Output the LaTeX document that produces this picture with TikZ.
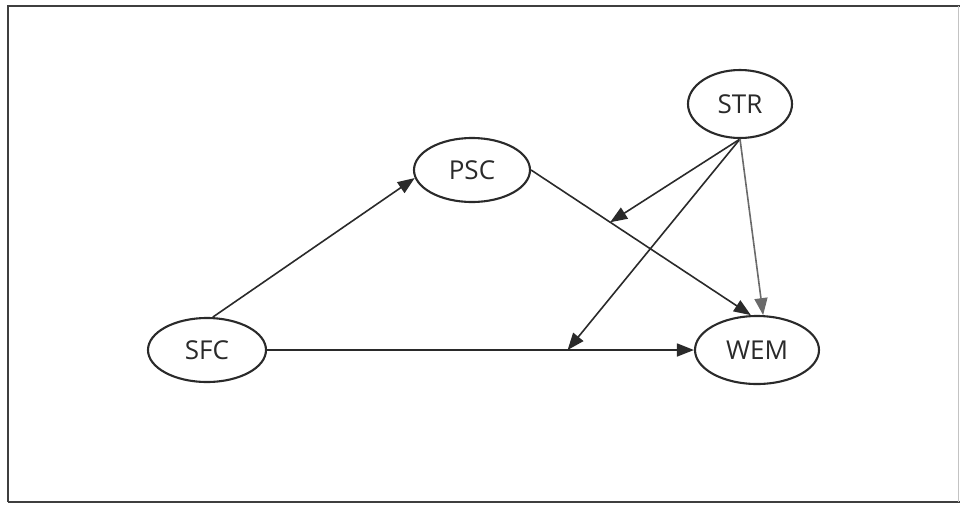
\documentclass[tikz,border=0pt]{standalone}
\usepackage{fontspec}
\setmainfont{Open Sans}
\usetikzlibrary{arrows.meta,shapes.geometric}
\definecolor{ink}{HTML}{2A2A2A}
\definecolor{lightink}{HTML}{6A6A6A}
\begin{document}
\begin{tikzpicture}[x=1pt,y=-1pt,
  var/.style={ellipse, draw=ink, line width=2.1pt, inner sep=0pt,
    minimum width=116pt, minimum height=64pt, text=ink,
    font=\fontsize{26}{28}\selectfont},
  link/.style={draw=ink, line width=1.6pt, -{Triangle[length=17pt,width=13pt]}},
  glink/.style={draw=lightink, line width=1.6pt, -{Triangle[length=17pt,width=13pt]}},
  frame/.style={draw=ink!90, line width=2.2pt}]
\useasboundingbox (0,0) rectangle (960,504);
% frame
\draw[frame] (8,502) -- (8,6) -- (960,6);
\draw[frame] (8,502) -- (960,502);
\draw[draw=lightink!40, line width=1pt] (958,6) -- (958,502);
% nodes
\node[var, minimum width=104pt, minimum height=68pt] (str) at (740,104) {STR};
\node[var] (psc) at (472,170) {PSC};
\node[var, minimum width=118pt] (sfc) at (207,350) {SFC};
\node[var, minimum width=124pt, minimum height=68pt] (wem) at (757,350) {WEM};
% helper points on paths
\path (psc.east) -- (wem.100) coordinate[pos=0.36] (m1);
\path (sfc.east) -- (wem.west) coordinate[pos=0.704] (m2);
% connectors
\draw[link] (sfc.80) -- (psc.188);
\draw[link] (psc.east) -- (wem.100);
\draw[link] (sfc.east) -- (wem.west);
\draw[link] (str.south) -- (m1);
\draw[link] (str.south) -- (m2);
\draw[glink] (str.south) -- (wem.80);
\end{tikzpicture}
\end{document}
